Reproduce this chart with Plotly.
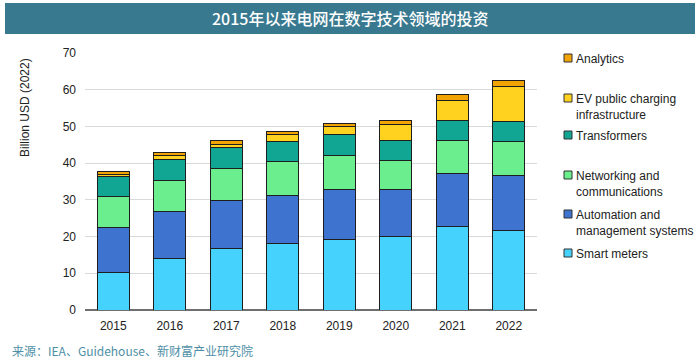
import plotly.graph_objects as go

years = ["2015", "2016", "2017", "2018", "2019", "2020", "2021", "2022"]
smart_meters = [10.2, 14.1, 16.8, 18.0, 19.3, 20.0, 22.7, 21.6]
automation = [12.2, 12.7, 13.0, 13.3, 13.6, 12.8, 14.4, 14.9]
networking = [8.5, 8.6, 8.8, 9.1, 9.3, 7.9, 9.2, 9.4]
transformers = [5.4, 5.7, 5.7, 5.5, 5.5, 5.4, 5.3, 5.4]
ev_charging = [0.7, 0.9, 0.9, 2.0, 2.2, 4.3, 5.4, 9.7]
analytics = [0.8, 0.9, 0.9, 0.7, 1.0, 1.3, 1.6, 1.5]

series_names = ["Smart meters", "Automation and management systems",
                "Networking and communications", "Transformers",
                "EV public charging infrastructure", "Analytics"]
legend_labels = ["Smart meters", "Automation and<br>management systems",
                 "Networking and<br>communications", "Transformers",
                 "EV public charging<br>infrastructure", "Analytics"]
series_values = [smart_meters, automation, networking, transformers, ev_charging, analytics]
colors = ["#45D3FE", "#3E74D0", "#6BEE8D", "#11A693", "#FFD21F", "#F2A404"]

W, H = 700, 364
ML, MR, MT, MB = 85, 163, 53, 54
PW, PH = W - ML - MR, H - MT - MB

def px(x):
    return (x - ML) / PW

def py(y):
    return (H - MB - y) / PH

fig = go.Figure()
for name, vals, col in zip(series_names, series_values, colors):
    fig.add_trace(go.Bar(x=years, y=vals, name=name, marker_color=col,
                         marker_line_color="#1e1e1e", marker_line_width=1,
                         width=0.57, showlegend=False))

shapes = []
annotations = []
# title banner
shapes.append(dict(type="rect", xref="paper", yref="paper", x0=px(5), x1=px(695),
                   y0=py(34), y1=py(3), fillcolor="#38798F", line_width=0, layer="below"))
annotations.append(dict(text="2015年以来电网在数字技术领域的投资", xref="paper", yref="paper",
                        x=px(350), y=py(18), showarrow=False, xanchor="center", yanchor="middle",
                        font=dict(family="Noto Sans CJK SC", size=16, color="white", weight=500)))
# y title
annotations.append(dict(text="Billion USD (2022)", xref="paper", yref="paper", x=px(25), y=py(107),
                        showarrow=False, textangle=-90, xanchor="center", yanchor="middle",
                        font=dict(family="Liberation Sans, Arial", size=12, color="#222")))
# footer
annotations.append(dict(text="来源：IEA、Guidehouse、新财富产业研究院", xref="paper", yref="paper",
                        x=px(10), y=py(350), showarrow=False, xanchor="left", yanchor="middle",
                        font=dict(family="Noto Sans CJK SC", size=12, color="#4E8FA6")))
# manual legend
legend_y = [253, 214, 175, 135, 98, 58]
for lab, col, ly in zip(legend_labels, colors, legend_y):
    shapes.append(dict(type="rect", xref="paper", yref="paper", x0=px(564), x1=px(572),
                       y0=py(ly + 4), y1=py(ly - 4), fillcolor=col,
                       line=dict(color="#333", width=1)))
    annotations.append(dict(text=lab, xref="paper", yref="paper", x=px(574), y=py(ly - 8),
                            showarrow=False, xanchor="left", yanchor="top", align="left",
                            font=dict(family="Liberation Sans, Arial", size=12, color="#222")))

fig.update_layout(
    barmode="stack", width=W, height=H,
    margin=dict(l=ML, r=MR, t=MT, b=MB),
    paper_bgcolor="white", plot_bgcolor="white",
    font=dict(family="Liberation Sans, Arial", size=12, color="#222"),
    bargap=0.43,
    shapes=shapes, annotations=annotations,
    xaxis=dict(type="category", showline=False, ticks="", tickfont=dict(size=12, color="#222"),
               range=[-0.5, 7.5], ticklabelstandoff=7),
    yaxis=dict(range=[0, 70], dtick=10, showgrid=True, gridcolor="#D9D9D9", gridwidth=1,
               zeroline=True, zerolinecolor="#6F6F6F", zerolinewidth=2,
               ticks="", tickfont=dict(size=12, color="#222"), ticklabelstandoff=8),
)
fig.write_html("out.html", config={"displayModeBar": False},
               post_script="document.body.style.margin='0';")
